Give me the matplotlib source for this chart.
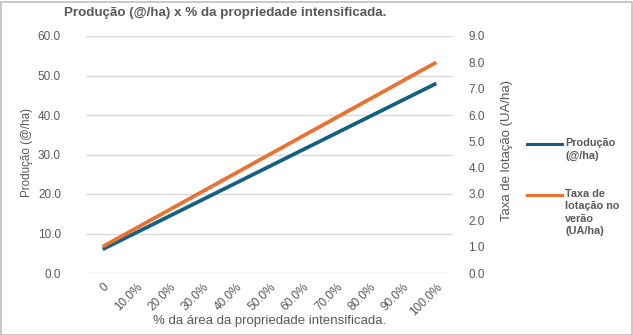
import matplotlib.pyplot as plt
import matplotlib as mpl
from matplotlib.lines import Line2D
from matplotlib.patches import Rectangle

# share of the property area under intensification
area_labels = ['0', '10.0%', '20.0%', '30.0%', '40.0%', '50.0%',
               '60.0%', '70.0%', '80.0%', '90.0%', '100.0%']
# production (@/ha), left axis
producao = [6.0, 10.2, 14.4, 18.6, 22.8, 27.0, 31.2, 35.4, 39.6, 43.8, 48.0]
# summer stocking rate (UA/ha), right axis
taxa_lotacao = [1.0, 1.7, 2.4, 3.1, 3.8, 4.5, 5.2, 5.9, 6.6, 7.3, 8.0]

left_ticks = [0, 10, 20, 30, 40, 50, 60]
right_ticks = [0, 1, 2, 3, 4, 5, 6, 7, 8, 9]

blue = '#156082'
orange = '#E97132'
grey_txt = '#595959'
grid_c = '#D9D9D9'

mpl.rcParams['font.family'] = ['Liberation Sans', 'DejaVu Sans']

W, H = 633, 335
fig = plt.figure(figsize=(W / 100, H / 100), dpi=100)
fig.patch.set_facecolor('white')

# plot area in pixel units
x0, x1, ytop, ybot = 86, 453, 36, 273
pw, ph = x1 - x0, ybot - ytop
ax = fig.add_axes([x0 / W, 1 - ybot / H, pw / W, ph / H])
ax2 = ax.twinx()

xs = list(range(len(area_labels)))
ax.plot(xs, producao, color=blue, lw=2.7, solid_capstyle='butt', zorder=3)
ax2.plot(xs, taxa_lotacao, color=orange, lw=2.7, solid_capstyle='butt', zorder=3)

ax.set_xlim(-0.5, len(xs) - 0.5)
ax.set_ylim(0, 60)
ax2.set_ylim(0, 9)
ax.set_yticks(left_ticks)
ax.set_yticklabels([f'{v:.1f}' for v in left_ticks])
ax2.set_yticks(right_ticks)
ax2.set_yticklabels([f'{v:.1f}' for v in right_ticks])
ax.set_xticks(xs)
ax.set_xticklabels(area_labels, rotation=45, ha='right', va='top',
                   rotation_mode='anchor')

ax.grid(axis='y', color=grid_c, lw=1)
ax.set_axisbelow(True)
for a in (ax, ax2):
    for s in a.spines.values():
        s.set_visible(False)
    a.tick_params(length=0, colors=grey_txt, labelsize=8.5)
ax.tick_params(axis='y', pad=18)
ax2.tick_params(axis='y', pad=11)
ax.tick_params(axis='x', pad=6)

ax.set_ylabel('Produção (@/ha)', color=grey_txt, fontsize=8.4)
ax.yaxis.set_label_coords(-53 / pw, (ybot - 153) / ph)
ax2.set_ylabel('Taxa de lotação (UA/ha)', color=grey_txt, fontsize=9.5)
ax2.yaxis.set_label_coords(1 + 48 / pw, (ybot - 151) / ph)
ax.set_xlabel('% da área da propriedade intensificada.', color=grey_txt,
              fontsize=9.5, labelpad=-2)

fig.text(225 / W, 1 - 13 / H, 'Produção (@/ha) x % da propriedade intensificada.',
         ha='center', va='center', fontsize=9.6, fontweight='bold', color=grey_txt)

# legend at the right, handle level with the first text line
legend_items = [(blue, 'Produção\n(@/ha)', 144),
                (orange, 'Taxa de\nlotação no\nverão\n(UA/ha)', 195)]
for col, txt, yy in legend_items:
    fig.add_artist(Line2D([527 / W, 562 / W], [1 - yy / H, 1 - yy / H],
                          color=col, lw=2.2, transform=fig.transFigure))
    fig.text(565 / W, 1 - (yy - 6) / H, txt, ha='left', va='top',
             fontsize=7.8, fontweight='bold', color=grey_txt, linespacing=1.3)

# chart border
fig.add_artist(Rectangle((0.5 / W, 0.5 / H), (W - 2) / W, (H - 2) / H,
                         fill=False, ec='#BFBFBF', lw=1.2,
                         transform=fig.transFigure))

fig.savefig('out.png', dpi=100)
